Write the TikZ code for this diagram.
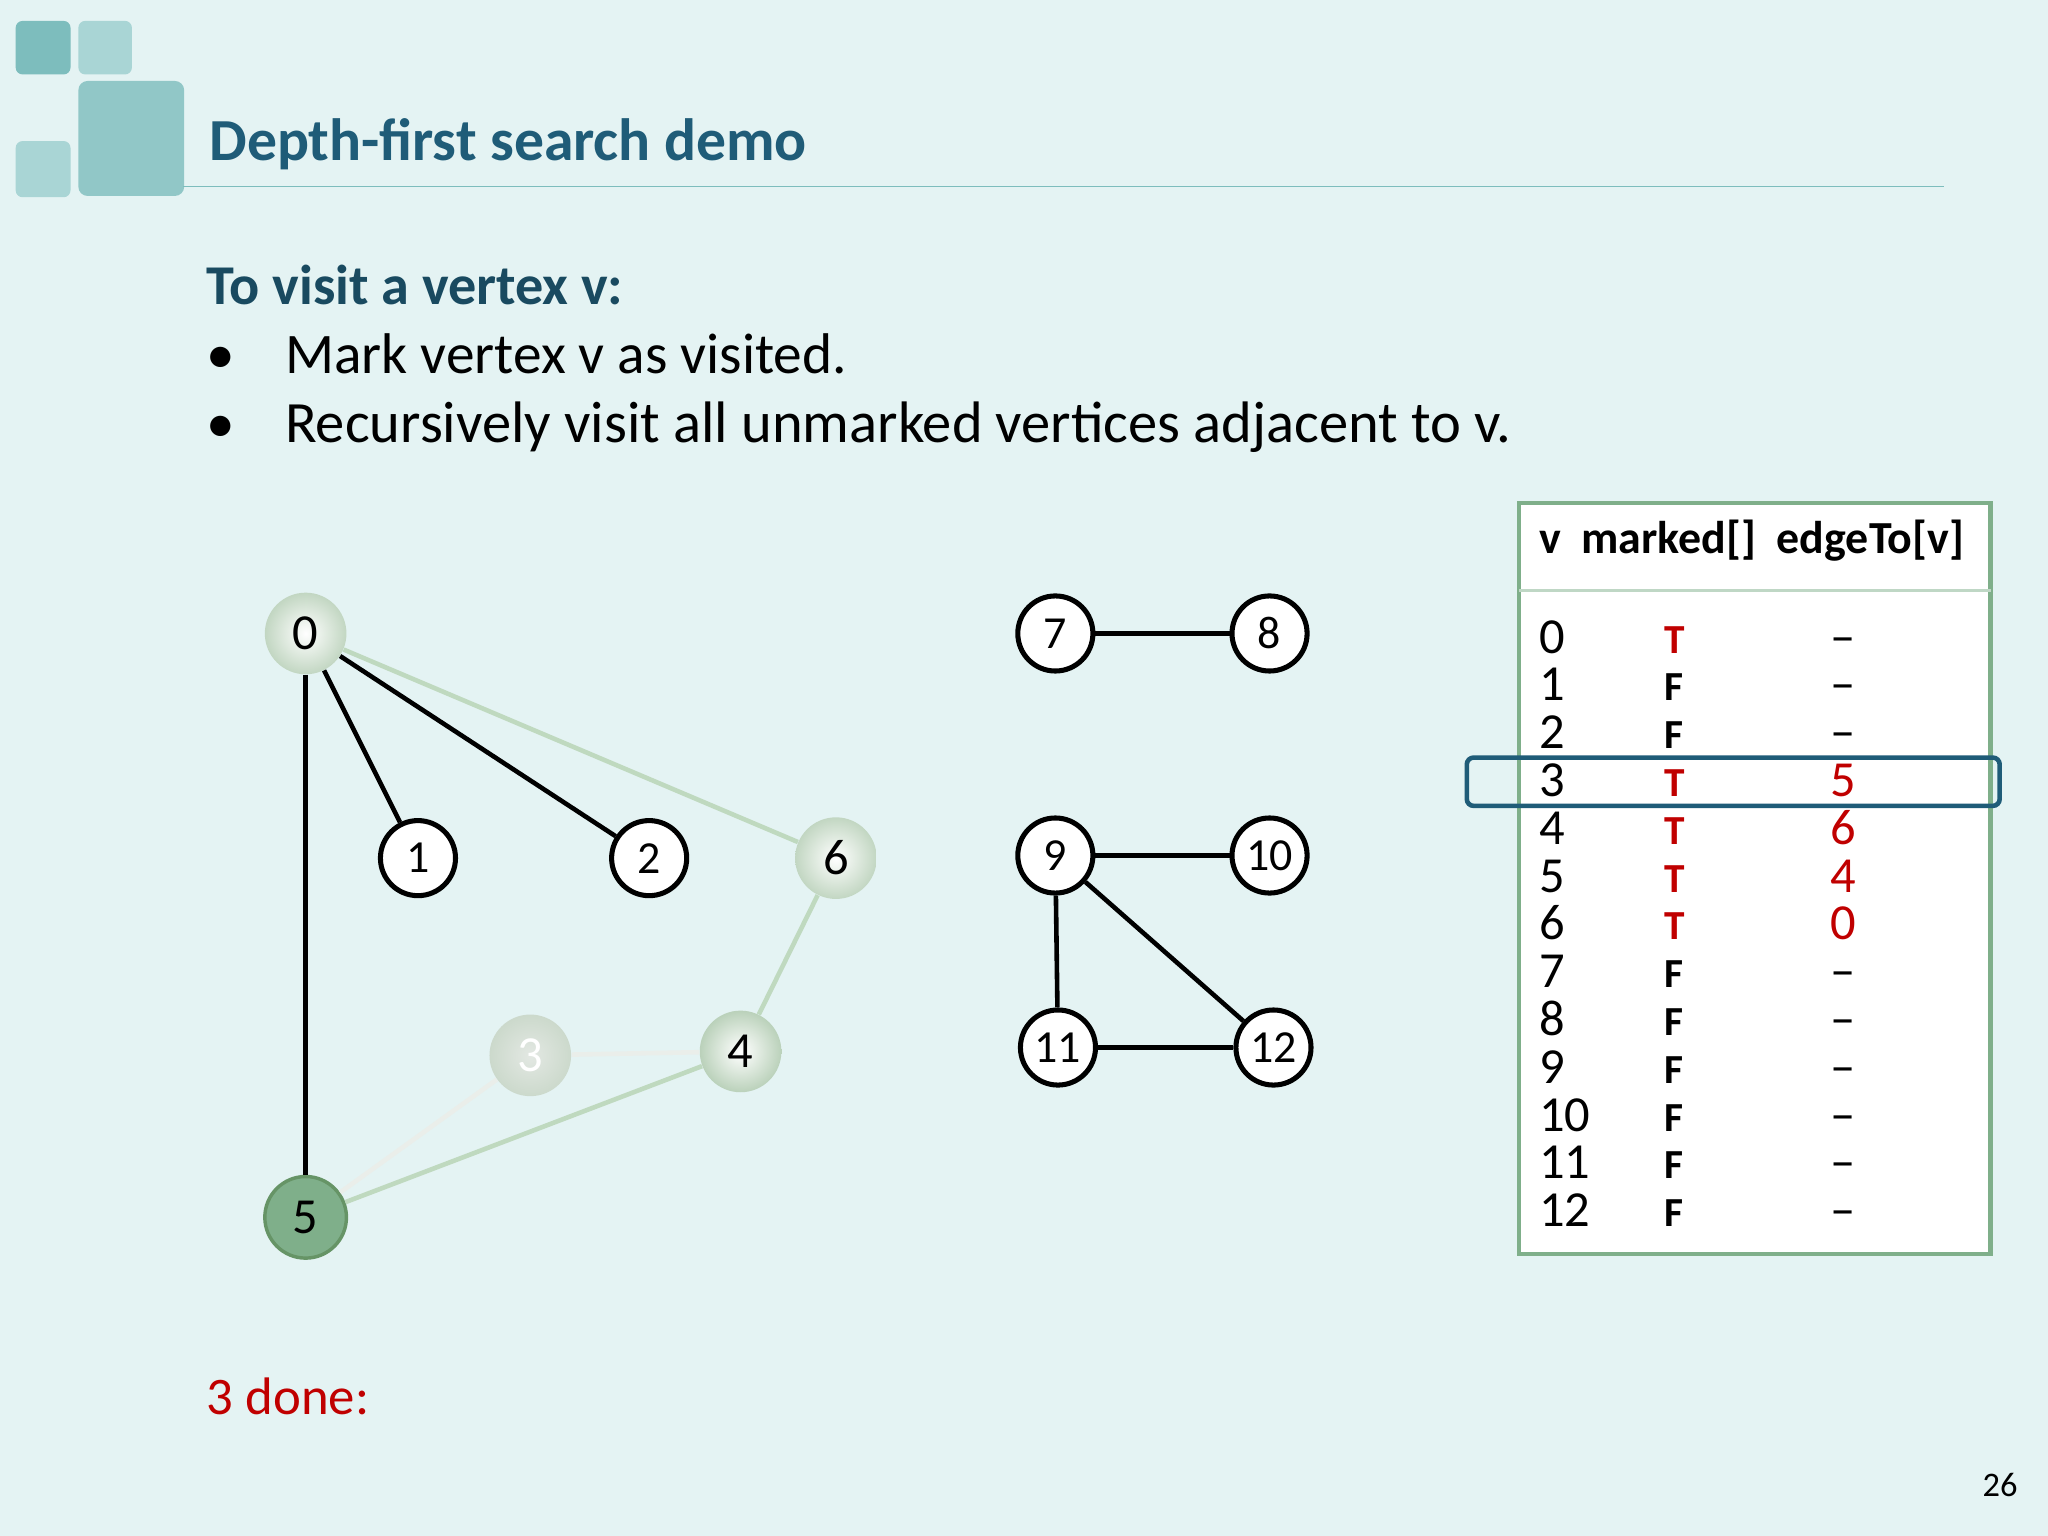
\documentclass[tikz,border=0pt]{standalone}
\usepackage{fontspec}
\setmainfont{Carlito}
\begin{document}
\begin{tikzpicture}[x=0.02cm,y=-0.02cm,
  every node/.append style={inner sep=0pt},
  vtx/.style={circle,draw=black,line width=2.2pt,fill=white,minimum size=1.15cm,inner sep=0pt,font=\fontsize{20}{20}\selectfont},
  gv/.style={circle,draw=none,minimum size=1.25cm,inner sep=0pt,font=\fontsize{22}{22}\selectfont},
  edge/.style={line width=2pt,black},
  gedge/.style={line width=2pt,color=green!25!gray!40},
  fedge/.style={line width=2pt,color=green!10!gray!15},
  cell/.style={anchor=base,font=\fontsize{18}{18}\selectfont\bfseries,inner sep=0pt},
  num/.style={anchor=base west,font=\fontsize{22}{22}\selectfont,inner sep=0pt}]
\definecolor{bgc}{HTML}{E4F3F3}
\definecolor{teal1}{HTML}{1F5C78}
\definecolor{deco1}{HTML}{7DBDBD}
\definecolor{deco2}{HTML}{A9D5D5}
\definecolor{tgreen}{HTML}{7FAF8A}
\definecolor{red1}{HTML}{C00000}
\fill[bgc] (0,0) rectangle (1568,1176);
\useasboundingbox (0,0) rectangle (1568,1176);
\fill[deco1,rounded corners=3pt] (12,16) rectangle (54,57);
\fill[deco2,rounded corners=3pt] (60,16) rectangle (101,57);
\fill[deco2,rounded corners=3pt] (12,108) rectangle (54,151);
\fill[deco1!85!white,rounded corners=4pt] (60,62) rectangle (141,150);
\node[anchor=base west,text=teal1,font=\fontsize{26}{26}\selectfont\bfseries] (title) at (160,123) {Depth-first search demo};
\draw[deco1,line width=0.6pt] (140,143) -- (1488,143);
\node[anchor=base west,text=teal1!80!black,font=\fontsize{24.5}{25}\selectfont\bfseries] (h) at (158,233) {To visit a vertex v:};
\node[anchor=base west,font=\fontsize{25}{25}\selectfont] (b1) at (158,286) {•};
\node[anchor=base west,font=\fontsize{25}{25}\selectfont] (t1) at (218,286) {Mark vertex v as visited.};
\node[anchor=base west,font=\fontsize{25}{25}\selectfont] (b2) at (158,339) {•};
\node[anchor=base west,font=\fontsize{25.5}{25}\selectfont] (t2) at (218,339) {Recursively visit all unmarked vertices adjacent to v.};
\node[gv,shading=radial,inner color=white,outer color=green!20!gray!40] (n0) at (234,485) {0};
\node[vtx] (n1) at (320,657) {1};
\node[vtx] (n2) at (497,657) {2};
\node[gv,shading=radial,inner color=white,outer color=green!20!gray!40] (n6) at (640,657) {6};
\node[gv,shading=radial,inner color=green!10!gray!20,outer color=green!15!gray!35,text=white] (n3) at (406,808) {3};
\node[gv,shading=radial,inner color=white,outer color=green!20!gray!45] (n4) at (567,805) {4};
\node[gv,fill=tgreen,draw=green!30!black!60,line width=1.5pt] (n5) at (234,932) {5};
\draw[edge] (n0) -- (n5);
\draw[edge] (n0) -- (n1);
\draw[edge] (n0) -- (n2);
\draw[gedge] (n0) -- (n6);
\draw[gedge] (n6) -- (n4);
\draw[fedge] (n3) -- (n4);
\draw[fedge] (n3) -- (n5);
\draw[gedge] (n5) -- (n4);
\node[vtx] (n7) at (808,485) {7};
\node[vtx] (n8) at (972,485) {8};
\node[vtx] (n9) at (808,655) {9};
\node[vtx] (n10) at (972,655) {10};
\node[vtx] (n11) at (810,802) {11};
\node[vtx] (n12) at (975,802) {12};
\draw[edge] (n7) -- (n8);
\draw[edge] (n9) -- (n10);
\draw[edge] (n9) -- (n11);
\draw[edge] (n9) -- (n12);
\draw[edge] (n11) -- (n12);
\fill[white] (1163,385) rectangle (1524,960);
\draw[tgreen,line width=2pt] (1163,385) rectangle (1524,960);
\draw[tgreen!50,line width=1pt] (1163,452) -- (1524,452);
\node[anchor=base west,font=\fontsize{20}{20}\selectfont\bfseries] (hdr) at (1178,424) {v\ \ marked[]\ \ edgeTo[v]};
\foreach \v/\m/\c [count=\i from 0] in {0/T/red1,1/F/black,2/F/black,3/T/red1,4/T/red1,5/T/red1,6/T/red1,7/F/black,8/F/black,9/F/black,10/F/black,11/F/black,12/F/black}{
  \node[num] (v\i) at (1178,{500+36.6*\i}) {\v};
  \node[cell,text=\c] (m\i) at (1282,{500+36.6*\i}) {\m};
}
\foreach \e/\c [count=\i from 0] in {–/black,–/black,–/black,5/red1,6/red1,4/red1,0/red1,–/black,–/black,–/black,–/black,–/black,–/black}{
  \node[num,anchor=base,text=\c] (e\i) at (1411,{500+36.6*\i}) {\e};
}
\draw[teal1,line width=2pt,rounded corners=3pt] (1123,580) rectangle (1531,617);
\node[anchor=base west,text=red1,font=\fontsize{23}{24}\selectfont] (done) at (158,1083) {3 done:};
\node[anchor=base east,font=\fontsize{15}{15}\selectfont] (pg) at (1545,1146) {26};
\end{tikzpicture}
\end{document}
